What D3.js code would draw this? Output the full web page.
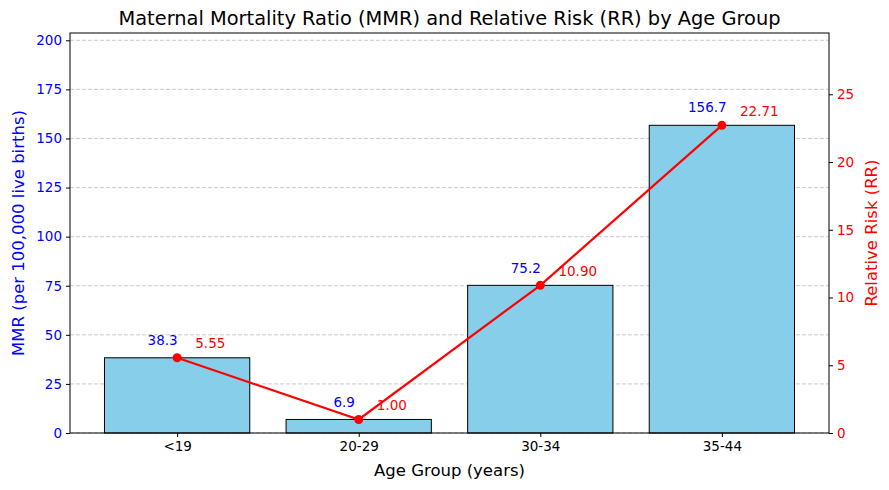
<!DOCTYPE html>
<html>
<head>
<meta charset="utf-8">
<script src="https://cdn.jsdelivr.net/npm/d3@7"></script>
<style>
  body { margin: 0; background: #fff; }
  svg { font-family: "DejaVu Sans", sans-serif; }
</style>
</head>
<body>
<div id="chart"></div>
<script>
// Data
const ageGroups = ["<19", "20-29", "30-34", "35-44"];
const mmrValues = [38.3, 6.9, 75.2, 156.7];
const rrValues = [5.55, 1.00, 10.90, 22.71];
const mmrTicks = [0, 25, 50, 75, 100, 125, 150, 175, 200];
const rrTicks = [0, 5, 10, 15, 20, 25];

const W = 889, H = 490;
const margin = { top: 33, right: 60, bottom: 57, left: 70 };
const width = W - margin.left - margin.right;
const height = H - margin.top - margin.bottom;

const svg = d3.select("#chart").append("svg")
  .attr("width", W).attr("height", H);

// Title
svg.append("text")
  .attr("x", margin.left + width / 2).attr("y", 25)
  .attr("text-anchor", "middle")
  .attr("font-size", "19.4px")
  .text("Maternal Mortality Ratio (MMR) and Relative Risk (RR) by Age Group");

const g = svg.append("g").attr("transform", `translate(${margin.left},${margin.top})`);

// x scale in category units, matplotlib-like margins
const x = d3.scaleLinear().domain([-0.59, 3.59]).range([0, width]);
const barW = 0.8;

const yL = d3.scaleLinear().domain([0, d3.max(mmrValues) * 1.3]).range([height, 0]);
const yR = d3.scaleLinear().domain([0, d3.max(rrValues) * 1.3]).range([height, 0]);

// Grid lines (left axis)
g.append("g")
  .selectAll("line").data(mmrTicks).enter().append("line")
  .attr("x1", 0).attr("x2", width)
  .attr("y1", d => yL(d)).attr("y2", d => yL(d))
  .attr("stroke", "#a8a8a8").attr("stroke-opacity", 0.75)
  .attr("stroke-dasharray", "4,2").attr("stroke-width", 0.8);

// Bars
g.selectAll(".bar").data(mmrValues).enter().append("rect")
  .attr("class", "bar")
  .attr("x", (d, i) => x(i - barW / 2))
  .attr("width", x(barW) - x(0))
  .attr("y", d => yL(d))
  .attr("height", d => height - yL(d))
  .attr("fill", "skyblue")
  .attr("stroke", "black").attr("stroke-width", 1);

// Axes
const tickFont = "13.5px";
const xAxis = g.append("g").attr("transform", `translate(0,${height})`)
  .call(d3.axisBottom(x).tickValues(d3.range(ageGroups.length))
    .tickFormat(i => ageGroups[i]).tickSize(4).tickPadding(4));
xAxis.selectAll("text").attr("font-size", tickFont).attr("fill", "black");

const leftAxis = g.append("g")
  .call(d3.axisLeft(yL).tickValues(mmrTicks).tickSize(4).tickPadding(4));
leftAxis.selectAll("text").attr("font-size", tickFont).attr("fill", "blue");

const rightAxis = g.append("g").attr("transform", `translate(${width},0)`)
  .call(d3.axisRight(yR).tickValues(rrTicks).tickSize(4).tickPadding(4));
rightAxis.selectAll("text").attr("font-size", tickFont).attr("fill", "red");

[xAxis, leftAxis, rightAxis].forEach(a => {
  a.select(".domain").remove();
  a.selectAll("line").attr("stroke", "black");
  a.attr("font-family", null);
});

// Frame
g.append("rect").attr("width", width).attr("height", height)
  .attr("fill", "none").attr("stroke", "black").attr("stroke-width", 1);

// RR line
const line = d3.line().x((d, i) => x(i)).y(d => yR(d));
g.append("path").datum(rrValues)
  .attr("d", line).attr("fill", "none")
  .attr("stroke", "red").attr("stroke-width", 2.2);
g.selectAll(".pt").data(rrValues).enter().append("circle")
  .attr("class", "pt")
  .attr("cx", (d, i) => x(i)).attr("cy", d => yR(d))
  .attr("r", 4.5).attr("fill", "red");

// Value labels
g.selectAll(".mmrLab").data(mmrValues).enter().append("text")
  .attr("x", (d, i) => x(i - 0.08))
  .attr("y", d => yL(d + 5) - 3)
  .attr("text-anchor", "middle")
  .attr("font-size", tickFont).attr("fill", "blue")
  .text(d => d.toFixed(1));

g.selectAll(".rrLab").data(rrValues).enter().append("text")
  .attr("x", (d, i) => x(i + 0.1))
  .attr("y", d => yR(d + 0.5) - 3)
  .attr("text-anchor", "start")
  .attr("font-size", tickFont).attr("fill", "red")
  .text(d => d.toFixed(2));

// Axis titles
svg.append("text")
  .attr("x", margin.left + width / 2).attr("y", 476)
  .attr("text-anchor", "middle").attr("font-size", "16.5px")
  .text("Age Group (years)");

svg.append("text")
  .attr("transform", `translate(24,${margin.top + height / 2}) rotate(-90)`)
  .attr("text-anchor", "middle").attr("font-size", "16.5px").attr("fill", "blue")
  .text("MMR (per 100,000 live births)");

svg.append("text")
  .attr("transform", `translate(877,${margin.top + height / 2}) rotate(-90)`)
  .attr("text-anchor", "middle").attr("font-size", "16.5px").attr("fill", "red")
  .text("Relative Risk (RR)");
</script>
</body>
</html>
